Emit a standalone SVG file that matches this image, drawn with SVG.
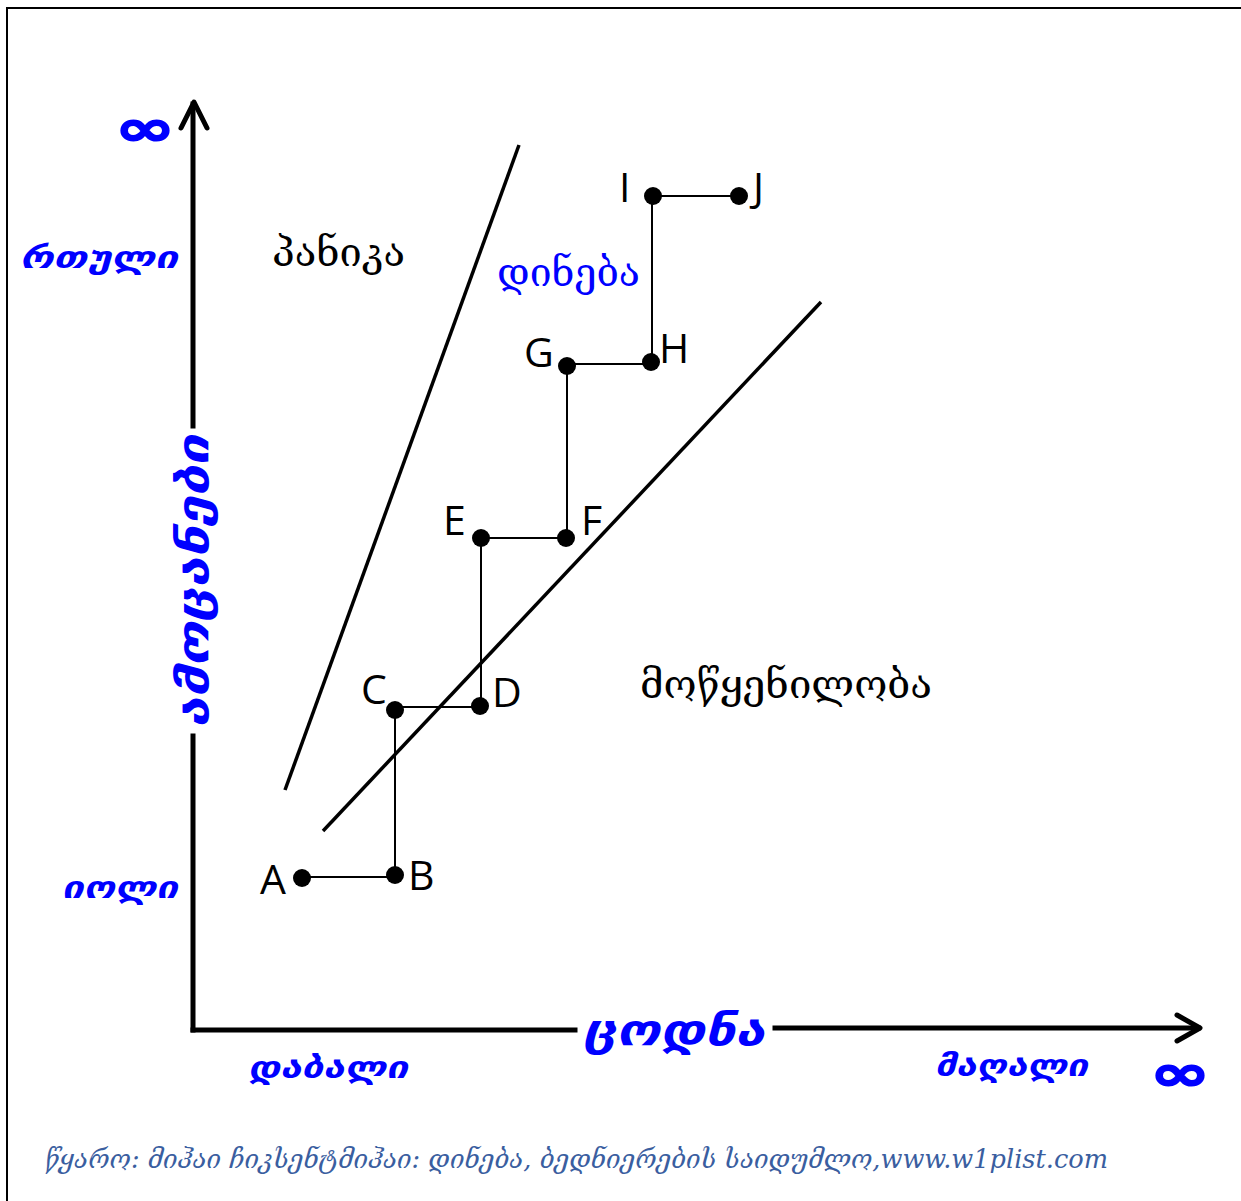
<svg xmlns="http://www.w3.org/2000/svg" width="1241" height="1201" viewBox="0 0 1241 1201">
<style>
.ax{stroke:#000;stroke-width:5;fill:none;stroke-linecap:square}
.ah{stroke:#000;stroke-width:5;fill:none;stroke-linecap:round;stroke-linejoin:round}
.bd{stroke:#000;stroke-width:2;fill:none}
.diag{stroke:#000;stroke-width:3.5;fill:none}
.path{stroke:#000;stroke-width:2;fill:none}
.dot{fill:#000}
.blbl{font-family:"DejaVu Sans",sans-serif;font-weight:bold;font-style:italic;fill:#0000ff}
.inf{font-family:"DejaVu Sans",sans-serif;font-weight:bold;font-size:72px;fill:#0000ff;stroke:#0000ff;stroke-width:2.5}
.pt{font-family:"Open Sans","DejaVu Sans",sans-serif;font-size:41px;fill:#000}
.geo{font-family:"DejaVu Serif","DejaVu Sans",serif;font-size:40px}
.foot{font-family:"DejaVu Serif","DejaVu Sans",serif;font-style:italic;font-size:26px;fill:#3a5ea0}
</style>
<rect width="1241" height="1201" fill="#fff"/>
<g id="frame">
<path class="bd" d="M7,1201 V8 H1241"/>
</g>
<g id="axes">
<path class="ax" d="M193,1030 V736 M193,426 V104"/>
<path class="ah" d="M181,128 L194,102 L207,128"/>
<path class="ax" d="M193,1030 H575 M775,1028 H1198"/>
<path class="ah" d="M1177,1015 L1200,1028 L1177,1041"/>
</g>
<g id="axis-labels">
<text class="inf" transform="translate(145,130) scale(1,0.68)" x="0" y="22" text-anchor="middle">∞</text>
<text class="inf" transform="translate(1180,1075) scale(1,0.68)" x="0" y="22" text-anchor="middle">∞</text>
<text class="blbl" x="20" y="268" font-size="30" textLength="158" lengthAdjust="spacingAndGlyphs">რთული</text>
<text class="blbl" x="62" y="898" font-size="30" textLength="116" lengthAdjust="spacingAndGlyphs">იოლი</text>
<text class="blbl" x="248" y="1078" font-size="30" textLength="160" lengthAdjust="spacingAndGlyphs">დაბალი</text>
<text class="blbl" x="935" y="1076" font-size="30" textLength="153" lengthAdjust="spacingAndGlyphs">მაღალი</text>
<text class="blbl" x="583" y="1045" font-size="42" textLength="182" lengthAdjust="spacingAndGlyphs">ცოდნა</text>
<text class="blbl" transform="translate(208,728) rotate(-90)" x="0" y="0" font-size="42" textLength="293" lengthAdjust="spacingAndGlyphs">ამოცანები</text>
</g>
<g id="regions">
<text id="panic" class="geo" x="272" y="266" fill="#000" textLength="133" lengthAdjust="spacingAndGlyphs">პანიკა</text>
<text id="flow" class="geo" x="497" y="286" fill="#0000ff" textLength="143" lengthAdjust="spacingAndGlyphs">დინება</text>
<text id="boredom" class="geo" x="640" y="698" fill="#000" textLength="292" lengthAdjust="spacingAndGlyphs">მოწყენილობა</text>
</g>
<g id="connectors">
<line class="diag" x1="285" y1="790" x2="519" y2="145"/>
<line class="diag" x1="323" y1="831" x2="821" y2="302"/>
<polyline class="path" points="302,877 395,877 395,707 481,707 481,538 567,538 567,364 652,364 652,196 739,196"/>
</g>
<g id="A"><circle class="dot" cx="302" cy="878" r="9"/><text class="pt" x="260" y="894">A</text></g>
<g id="B"><circle class="dot" cx="395" cy="875" r="9"/><text class="pt" x="408" y="890">B</text></g>
<g id="C"><circle class="dot" cx="395" cy="710" r="9"/><text class="pt" x="361" y="704">C</text></g>
<g id="D"><circle class="dot" cx="480" cy="706" r="9"/><text class="pt" x="492" y="707">D</text></g>
<g id="E"><circle class="dot" cx="481" cy="538" r="9"/><text class="pt" x="443" y="535">E</text></g>
<g id="F"><circle class="dot" cx="566" cy="538" r="9"/><text class="pt" x="581" y="535">F</text></g>
<g id="G"><circle class="dot" cx="567" cy="366" r="9"/><text class="pt" x="524" y="367">G</text></g>
<g id="H"><circle class="dot" cx="651" cy="362" r="9"/><text class="pt" x="659" y="363">H</text></g>
<g id="I"><circle class="dot" cx="653" cy="196" r="9"/><text class="pt" x="619" y="202">I</text></g>
<g id="J"><circle class="dot" cx="739" cy="196" r="9"/><text class="pt" x="753" y="202">J</text></g>
<g id="footer">
<text class="foot" x="45" y="1168" textLength="1063" lengthAdjust="spacingAndGlyphs">წყარო: მიჰაი ჩიკსენტმიჰაი: დინება, ბედნიერების  საიდუმლო,www.w1plist.com</text>
</g>
</svg>
